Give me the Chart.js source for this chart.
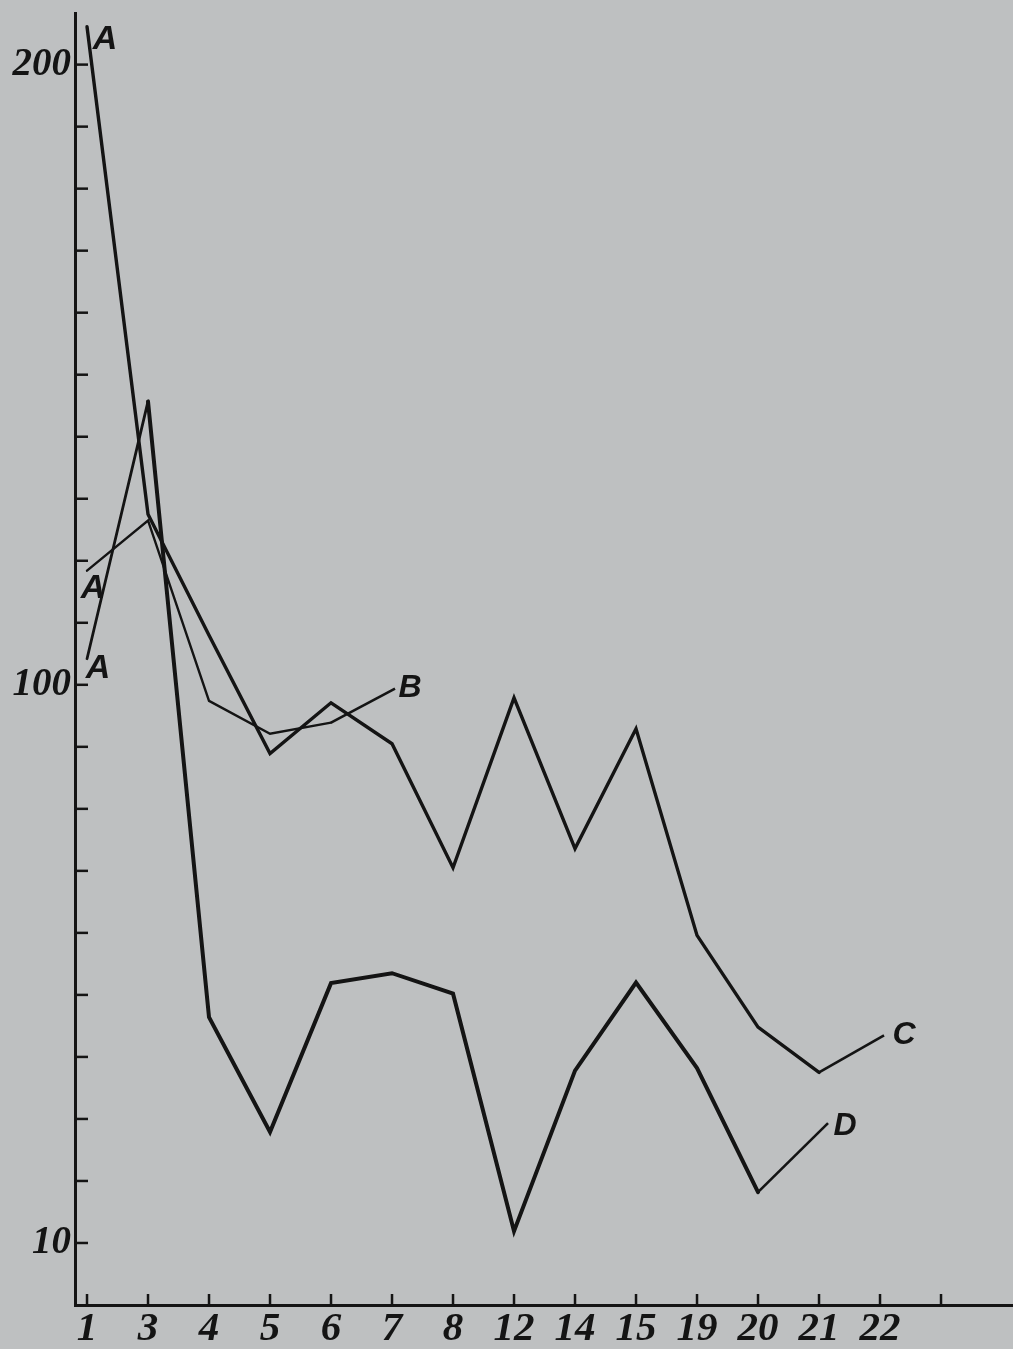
<!DOCTYPE html>
<html>
<head>
<meta charset="utf-8">
<script src="https://cdn.jsdelivr.net/npm/chart.js@4/dist/chart.umd.min.js"></script>
<style>
  html, body { margin: 0; padding: 0; background: #bec0c1; }
  #wrap { width: 1013px; height: 1349px; }
</style>
</head>
<body>
<div id="wrap"><canvas id="c" width="1013" height="1349"></canvas></div>
<script>
// ---- data ----
const categories = ['1','3','4','5','6','7','8','12','14','15','19','20','21','22'];
const yLabelValues = [10, 100, 200];
const seriesB = [118.4, 126.5, 97.4, 92.1, 93.9];
const seriesC = [206.1, 127.5, 108.0, 88.9, 97.1, 90.5, 70.5, 97.9, 73.6, 92.9, 59.6, 44.8, 37.5];
const seriesD = [104.2, 145.7, 46.4, 27.9, 51.9, 53.5, 50.2, 11.9, 37.8, 52.0, 38.2, 18.2];
const startNames = ['A', 'A', 'A'];
const endNames = ['B', 'C', 'D'];

const toPoints = arr => arr.map((v, i) => ({ x: i, y: v }));
const INK = '#141414';

const bgPlugin = {
  id: 'bg',
  beforeDraw(chart) {
    const { ctx, width, height } = chart;
    ctx.save();
    ctx.fillStyle = '#bec0c1';
    ctx.fillRect(0, 0, width, height);
    ctx.restore();
  }
};

const axisTicks = {
  id: 'axisTicks',
  afterDraw(chart) {
    const { ctx, scales: { x, y }, chartArea } = chart;
    ctx.save();
    ctx.strokeStyle = INK;
    ctx.lineWidth = 2.5;
    y.ticks.forEach(t => {
      if (t.value <= 0 || t.value > 200 || t.value % 10 !== 0) return;
      const py = y.getPixelForValue(t.value);
      ctx.beginPath();
      ctx.moveTo(chartArea.left, py);
      ctx.lineTo(chartArea.left + 13, py);
      ctx.stroke();
    });
    x.ticks.forEach(t => {
      if (t.value < 0 || t.value > categories.length) return;
      const px = x.getPixelForValue(t.value);
      ctx.beginPath();
      ctx.moveTo(px, chartArea.bottom - 11);
      ctx.lineTo(px, chartArea.bottom + 2);
      ctx.stroke();
    });
    ctx.restore();
  }
};

const seriesLabels = {
  id: 'seriesLabels',
  afterDatasetsDraw(chart) {
    const { ctx } = chart;
    ctx.save();
    ctx.fillStyle = INK;
    ctx.strokeStyle = INK;
    ctx.textAlign = 'center';
    ctx.textBaseline = 'middle';
    chart.data.datasets.forEach((ds, i) => {
      const pts = chart.getDatasetMeta(i).data;
      const first = pts[0], last = pts[pts.length - 1];
      ctx.font = 'italic bold 34px "Liberation Sans", Arial, sans-serif';
      ctx.fillText(ds.startName, first.x + ds.startOff[0], first.y + ds.startOff[1]);
      ctx.lineWidth = 2.6;
      ctx.beginPath();
      ctx.moveTo(last.x, last.y);
      ctx.lineTo(last.x + ds.leader[0], last.y + ds.leader[1]);
      ctx.stroke();
      ctx.font = 'italic bold 32px "Liberation Sans", Arial, sans-serif';
      ctx.fillText(ds.endName, last.x + ds.endOff[0], last.y + ds.endOff[1]);
    });
    ctx.restore();
  }
};

new Chart(document.getElementById('c'), {
  type: 'line',
  data: {
    datasets: [
      { data: toPoints(seriesB), borderWidth: 2.4, startName: startNames[0], endName: endNames[0],
        startOff: [6, 18], leader: [64, -34], endOff: [79, -34] },
      { data: toPoints(seriesC), borderWidth: 3.4, startName: startNames[1], endName: endNames[1],
        startOff: [18, 13], leader: [65, -37], endOff: [85, -37] },
      { data: toPoints(seriesD), borderWidth: 4, startName: startNames[2], endName: endNames[2],
        startOff: [11, 10], leader: [70, -69], endOff: [87, -66],
        segment: { borderWidth: ctx => ctx.p0DataIndex === 0 ? 2.8 : 4 } }
    ].map(d => Object.assign({ borderColor: INK, backgroundColor: INK, pointRadius: 0,
      tension: 0, fill: false, borderJoinStyle: 'miter', borderCapStyle: 'round' }, d))
  },
  options: {
    responsive: false,
    animation: false,
    events: [],
    layout: { padding: { top: 12, right: 0, left: 0, bottom: 0 } },
    plugins: { legend: { display: false }, tooltip: { enabled: false } },
    scales: {
      x: {
        type: 'linear',
        min: -0.197,
        max: 15.18,
        afterFit: s => { s.height = 44; },
        grid: { display: false, drawTicks: false },
        border: { display: true, color: INK, width: 3 },
        ticks: {
          stepSize: 1,
          autoSkip: false,
          includeBounds: false,
          maxRotation: 0,
          padding: 4,
          color: INK,
          font: { family: '"Liberation Serif", serif', size: 41, style: 'italic', weight: 'bold', lineHeight: 1 },
          callback: v => (Number.isInteger(v) && categories[v] !== undefined) ? categories[v] : ''
        }
      },
      y: {
        type: 'linear',
        min: 0,
        max: 208.2,
        afterFit: s => { s.width = 75; },
        grid: { display: false, drawTicks: false },
        border: { display: true, color: INK, width: 3 },
        ticks: {
          stepSize: 10,
          autoSkip: false,
          includeBounds: false,
          padding: 4,
          color: INK,
          font: { family: '"Liberation Serif", serif', size: 39, style: 'italic', weight: 'bold', lineHeight: 0.5 },
          callback: v => yLabelValues.includes(v) ? String(v) : ''
        }
      }
    }
  },
  plugins: [bgPlugin, axisTicks, seriesLabels]
});
</script>
</body>
</html>
